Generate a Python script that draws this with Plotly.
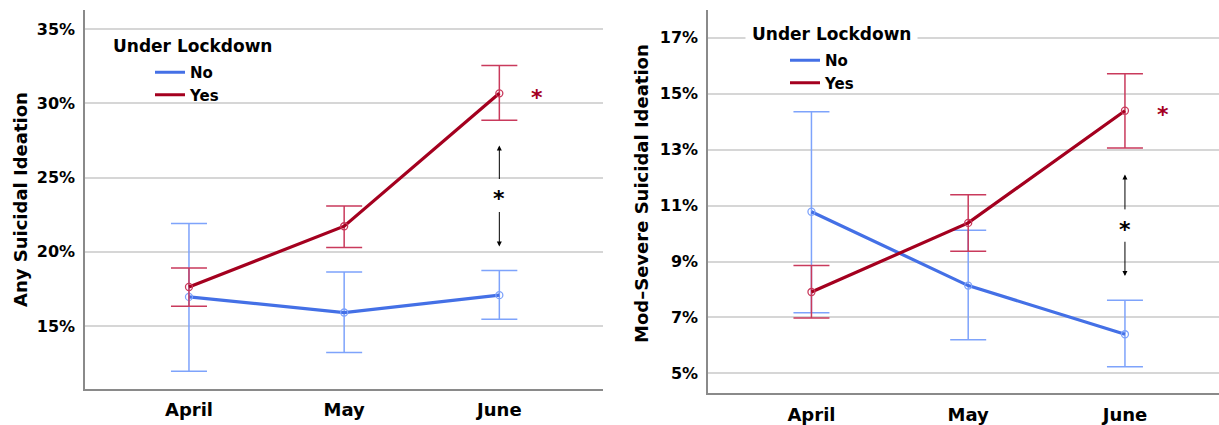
import plotly.graph_objects as go

# Survey months (category axis)
months = ["April", "May", "June"]
month_pos = [0, 1, 2]

# Any suicidal ideation (%), by lockdown status, with 95% CI bounds
any_no = [16.96, 15.91, 17.08]
any_no_lo = [11.96, 13.22, 15.46]
any_no_hi = [21.90, 18.64, 18.74]
any_yes = [17.63, 21.72, 30.67]
any_yes_lo = [16.33, 20.28, 28.86]
any_yes_hi = [18.91, 23.08, 32.54]

# Moderate-to-severe suicidal ideation (%), by lockdown status, with 95% CI bounds
mod_no = [10.78, 8.14, 6.40]
mod_no_lo = [7.17, 6.20, 5.24]
mod_no_hi = [14.35, 10.12, 7.62]
mod_yes = [7.91, 10.38, 14.39]
mod_yes_lo = [6.98, 9.37, 13.06]
mod_yes_hi = [8.86, 11.39, 15.71]

# Y tick values for each panel
any_ticks = [15, 20, 25, 30, 35]
mod_ticks = [5, 7, 9, 11, 13, 15, 17]

# Between-group comparison in June: arrow tips (upper, lower) and star level
any_arrow = [27.15, 24.80, 22.78, 20.36]
any_star = 23.84
mod_arrow = [12.11, 10.81, 9.76, 8.48]
mod_star = 10.27

FONT = "DejaVu Sans"
BLUE = "#4470e6"
BLUE_CI = "#7ea3fb"
RED = "#a4001f"
RED_CI = "#c93a5c"

W, H = 1219, 425


def err(vals, lo, hi, color):
    return dict(
        type="data",
        symmetric=False,
        array=[h - v for v, h in zip(vals, hi)],
        arrayminus=[v - l for v, l in zip(vals, lo)],
        width=18,
        thickness=1.5,
        color=color,
    )


fig = go.Figure()


def add_series(vals, lo, hi, color, ci_color, name, xa, ya, legend):
    fig.add_trace(go.Scatter(
        x=month_pos, y=vals, mode="lines+markers", name=name,
        line=dict(color=color, width=3.2),
        marker=dict(symbol="circle-open", size=7, color=ci_color, line=dict(width=1.3)),
        error_y=err(vals, lo, hi, ci_color), xaxis=xa, yaxis=ya, showlegend=False,
    ))
    # legend entry shows the line only
    fig.add_trace(go.Scatter(
        x=[None], y=[None], mode="lines", name=name,
        line=dict(color=color, width=3),
        xaxis=xa, yaxis=ya, legend=legend, showlegend=True,
    ))


add_series(any_no, any_no_lo, any_no_hi, BLUE, BLUE_CI, "No", "x", "y", "legend")
add_series(any_yes, any_yes_lo, any_yes_hi, RED, RED_CI, "Yes", "x", "y", "legend")
add_series(mod_no, mod_no_lo, mod_no_hi, BLUE, BLUE_CI, "No", "x2", "y2", "legend2")
add_series(mod_yes, mod_yes_lo, mod_yes_hi, RED, RED_CI, "Yes", "x2", "y2", "legend2")

xcommon = dict(
    tickmode="array", tickvals=month_pos, ticktext=months,
    tickfont=dict(family=FONT, size=18, color="black", weight="bold"),
    showgrid=False, zeroline=False, showline=True, linecolor="#8a8a8a", linewidth=1.5,
    ticks="", ticklabelstandoff=4, fixedrange=True,
)
ycommon = dict(
    tickmode="array",
    tickfont=dict(family=FONT, size=16, color="black", weight="bold"),
    showgrid=True, gridcolor="#d6d6d6", gridwidth=1.5, zeroline=False,
    showline=True, linecolor="#8a8a8a", linewidth=1.5, ticks="", ticklabelstandoff=5,
    fixedrange=True,
)

legend_font = dict(family=FONT, size=15, color="black", weight="bold")

fig.update_layout(
    width=W, height=H,
    margin=dict(l=0, r=0, t=0, b=0),
    paper_bgcolor="white", plot_bgcolor="white",
    xaxis=dict(domain=[85 / W, 603 / W], range=[-0.67, 2.668], anchor="y", **xcommon),
    yaxis=dict(domain=[1 - 389 / H, 1 - 10 / H], range=[10.76, 36.28], anchor="x",
               tickvals=any_ticks, ticktext=[f"{v}%" for v in any_ticks], **ycommon),
    xaxis2=dict(domain=[708 / W, 1.0], range=[-0.66, 2.6], anchor="y2", **xcommon),
    yaxis2=dict(domain=[1 - 393.3 / H, 1 - 10 / H], range=[4.29, 17.99], anchor="x2",
                tickvals=mod_ticks, ticktext=[f"{v}%" for v in mod_ticks], **ycommon),
    legend=dict(x=150 / W, y=1 - 56 / H, xanchor="left", yanchor="top",
                bgcolor="rgba(0,0,0,0)", itemwidth=30, tracegroupgap=0, font=legend_font),
    legend2=dict(x=785 / W, y=1 - 44 / H, xanchor="left", yanchor="top",
                 bgcolor="rgba(0,0,0,0)", itemwidth=30, tracegroupgap=0, font=legend_font),
    showlegend=True,
)

title_font = dict(family=FONT, size=17, color="black", weight="bold")
axis_title_font = dict(family=FONT, size=18, color="black", weight="bold")

ann = []
# legend titles
ann.append(dict(text="Under Lockdown", xref="paper", yref="paper", x=111 / W, y=1 - 46 / H,
                xanchor="left", yanchor="middle", showarrow=False, font=title_font))
ann.append(dict(text="Under Lockdown", xref="paper", yref="paper", x=745 / W, y=1 - 34 / H,
                xanchor="left", yanchor="middle", showarrow=False, bgcolor="white",
                borderpad=6, font=title_font))
# axis titles
ann.append(dict(text="Any Suicidal Ideation", xref="paper", yref="paper", x=20 / W, y=1 - 200 / H,
                textangle=-90, showarrow=False, xanchor="center", yanchor="middle",
                font=axis_title_font))
ann.append(dict(text="Mod\u2013Severe Suicidal Ideation", xref="paper", yref="paper", x=641 / W,
                y=1 - 194 / H, textangle=-90, showarrow=False, xanchor="center", yanchor="middle",
                font=axis_title_font))

# significance markers in June
for xr, yr, arrow, star, yes_val in (("x", "y", any_arrow, any_star, any_yes[2]),
                                     ("x2", "y2", mod_arrow, mod_star, mod_yes[2])):
    ann.append(dict(x=2, y=arrow[0], ax=2, ay=arrow[1], xref=xr, yref=yr, axref=xr, ayref=yr,
                    text="", showarrow=True, arrowhead=2, arrowsize=1, arrowwidth=1,
                    arrowcolor="black"))
    ann.append(dict(x=2, y=arrow[3], ax=2, ay=arrow[2], xref=xr, yref=yr, axref=xr, ayref=yr,
                    text="", showarrow=True, arrowhead=2, arrowsize=1, arrowwidth=1,
                    arrowcolor="black"))
    ann.append(dict(x=2, y=star, xref=xr, yref=yr, text="*", showarrow=False,
                    font=dict(family=FONT, size=22, color="black", weight="bold"),
                    yshift=-4))
    ann.append(dict(x=2.24, y=yes_val, xref=xr, yref=yr, text="*", showarrow=False,
                    font=dict(family=FONT, size=22, color=RED, weight="bold"),
                    yshift=-4))

fig.update_layout(annotations=ann)

fig.write_html("out.html")
